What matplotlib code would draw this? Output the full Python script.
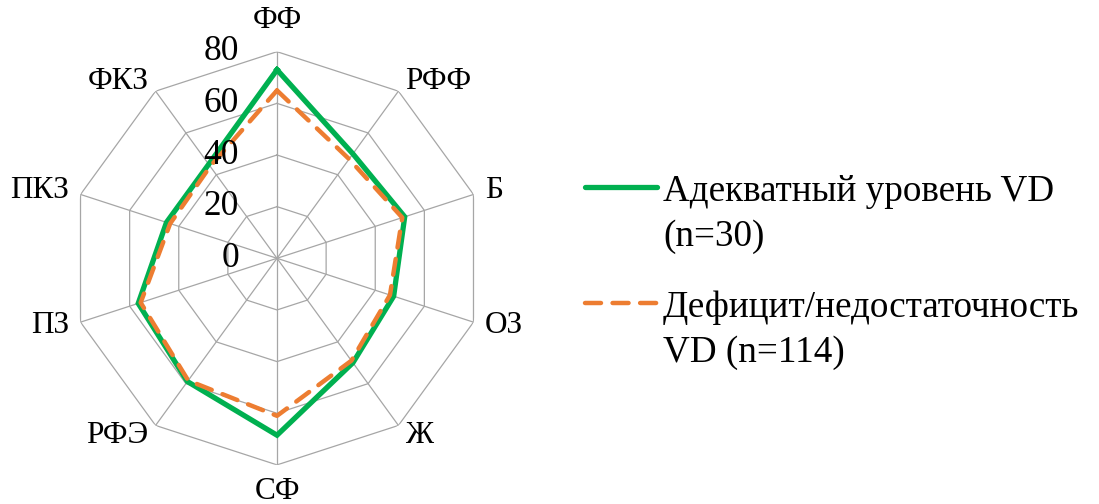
import numpy as np
import matplotlib
matplotlib.use("Agg")
import matplotlib.pyplot as plt
from matplotlib.lines import Line2D

plt.rcParams['font.family'] = 'serif'
plt.rcParams['font.serif'] = ['Liberation Serif', 'DejaVu Serif']

# данные с диаграммы
categories = ['ФФ', 'РФФ', 'Б', 'ОЗ', 'Ж', 'СФ', 'РФЭ', 'ПЗ', 'ПКЗ', 'ФКЗ']
adequate = [73, 50, 52, 47.5, 50, 68.5, 59, 56.5, 45, 45]
deficit = [65, 47.5, 51, 46, 49, 61, 58.5, 55.5, 43.5, 44]
rings = [0, 20, 40, 60, 80]
label_adequate = 'Адекватный уровень VD\n(n=30)'
label_deficit = 'Дефицит/недостаточность\nVD (n=114)'

green = '#00B050'
orange = '#ED7D31'
gridc = '#A6A6A6'

W, H = 1099, 504
fig = plt.figure(figsize=(W / 100, H / 100), dpi=100)
cx, cy, R = 277, 258.3, 206.6
ax = fig.add_axes([(cx - R) / W, (H - cy - R) / H, 2 * R / W, 2 * R / H], projection='polar')
ax.set_theta_zero_location('N')
ax.set_theta_direction(-1)
ax.set_ylim(0, 80)
ax.grid(False)
ax.spines['polar'].set_visible(False)
ax.set_xticks([])
ax.set_yticks([])
ax.patch.set_alpha(0)

n = len(categories)
theta = np.linspace(0, 2 * np.pi, n, endpoint=False)
theta_c = np.append(theta, theta[0])

# сетка-многоугольник
for r in rings[1:]:
    ax.plot(theta_c, [r] * (n + 1), color=gridc, lw=0.9, zorder=1)
for t in theta:
    ax.plot([t, t], [0, 80], color=gridc, lw=0.9, zorder=1)

ax.plot(theta_c, adequate + adequate[:1], color=green, lw=3.8, zorder=3,
        solid_joinstyle='miter')
ax.plot(theta_c, deficit + deficit[:1], color=orange, lw=3.2, zorder=4,
        linestyle=(0, (3.6, 2.6)), dash_capstyle='round')

# подписи шкалы
for r in rings:
    ax.annotate(str(r), xy=(0, r), xytext=(-38, 0), textcoords='offset pixels',
                ha='right', va='center', fontsize=25.5, zorder=5)

# подписи осей
for t, lab in zip(theta, categories):
    s, c = np.sin(t), np.cos(t)
    if abs(s) < 0.1:
        off = 31 if c > 0 else 27
        ha = 'center'
    else:
        off = 12
        ha = 'left' if s > 0 else 'right'
    ax.annotate(lab, xy=(t, 80), xytext=(off * s, off * c), textcoords='offset pixels',
                ha=ha, va='center', fontsize=22.5)

# легенда
for y, col, ls, lw, lab in [(187.3, green, '-', 3.8, label_adequate),
                            (303.3, orange, (0, (3.6, 2.6)), 3.2, label_deficit)]:
    fig.add_artist(Line2D([585 / W, 657 / W], [1 - y / H, 1 - y / H], color=col,
                          lw=lw, linestyle=ls, dash_capstyle='round',
                          solid_capstyle='round', transform=fig.transFigure))
    fig.text(663 / W, 1 - (y + 27) / H, lab, ha='left', va='center',
             fontsize=26.7, linespacing=1.38)

fig.savefig('out.png', dpi=100)
